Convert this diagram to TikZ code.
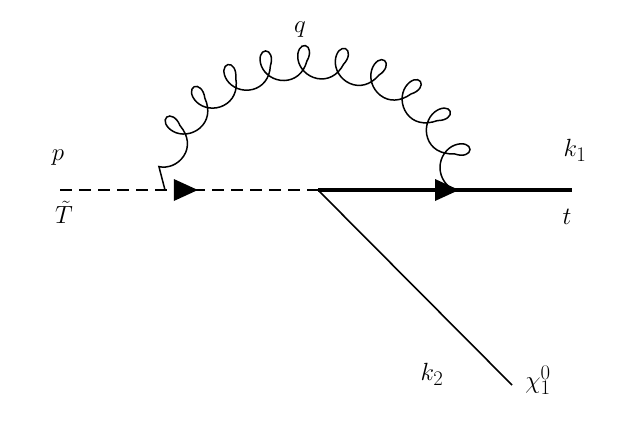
\documentclass[tikz,border=0pt]{standalone}
\usetikzlibrary{decorations.pathmorphing,decorations.markings}
\begin{document}
\begin{tikzpicture}[x=1pt,y=-1pt,
  tri/.style={postaction={decorate},decoration={markings,mark=at position #1 with {\fill (-10,-11)--(14,0)--(-10,11)--cycle;}}},
  lbl/.style={font=\fontsize{30}{34}\selectfont}]
\useasboundingbox (0,0) rectangle (636,444);
\coordinate (a) at (60,190);
\coordinate (v) at (318,190);
\coordinate (b) at (572,190);
\coordinate (c) at (512,385);
\draw[line width=2.5pt,dash pattern=on 12pt off 7pt,tri=0.48] (a) -- (v);
\draw[line width=3.5pt,tri=0.5] (v) -- (b);
\draw[line width=1.6pt] (v) -- (c);
\draw[line width=1.5pt,decorate,decoration={coil,aspect=0.9,amplitude=15pt,segment length=36pt}]
  (455,190) arc[start angle=360,end angle=180,x radius=145,y radius=125];
\node[lbl] (p) at (58,158) {$p$};
\node[lbl] (T) at (64,212) {$\tilde T$};
\node[lbl] (q) at (300,30) {$q$};
\node[lbl] (k1) at (575,150) {$k_1$};
\node[lbl] (t) at (567,217) {$t$};
\node[lbl] (k2) at (432,374) {$k_2$};
\node[lbl] (chi) at (538,380) {$\chi_1^0$};
\end{tikzpicture}
\end{document}
